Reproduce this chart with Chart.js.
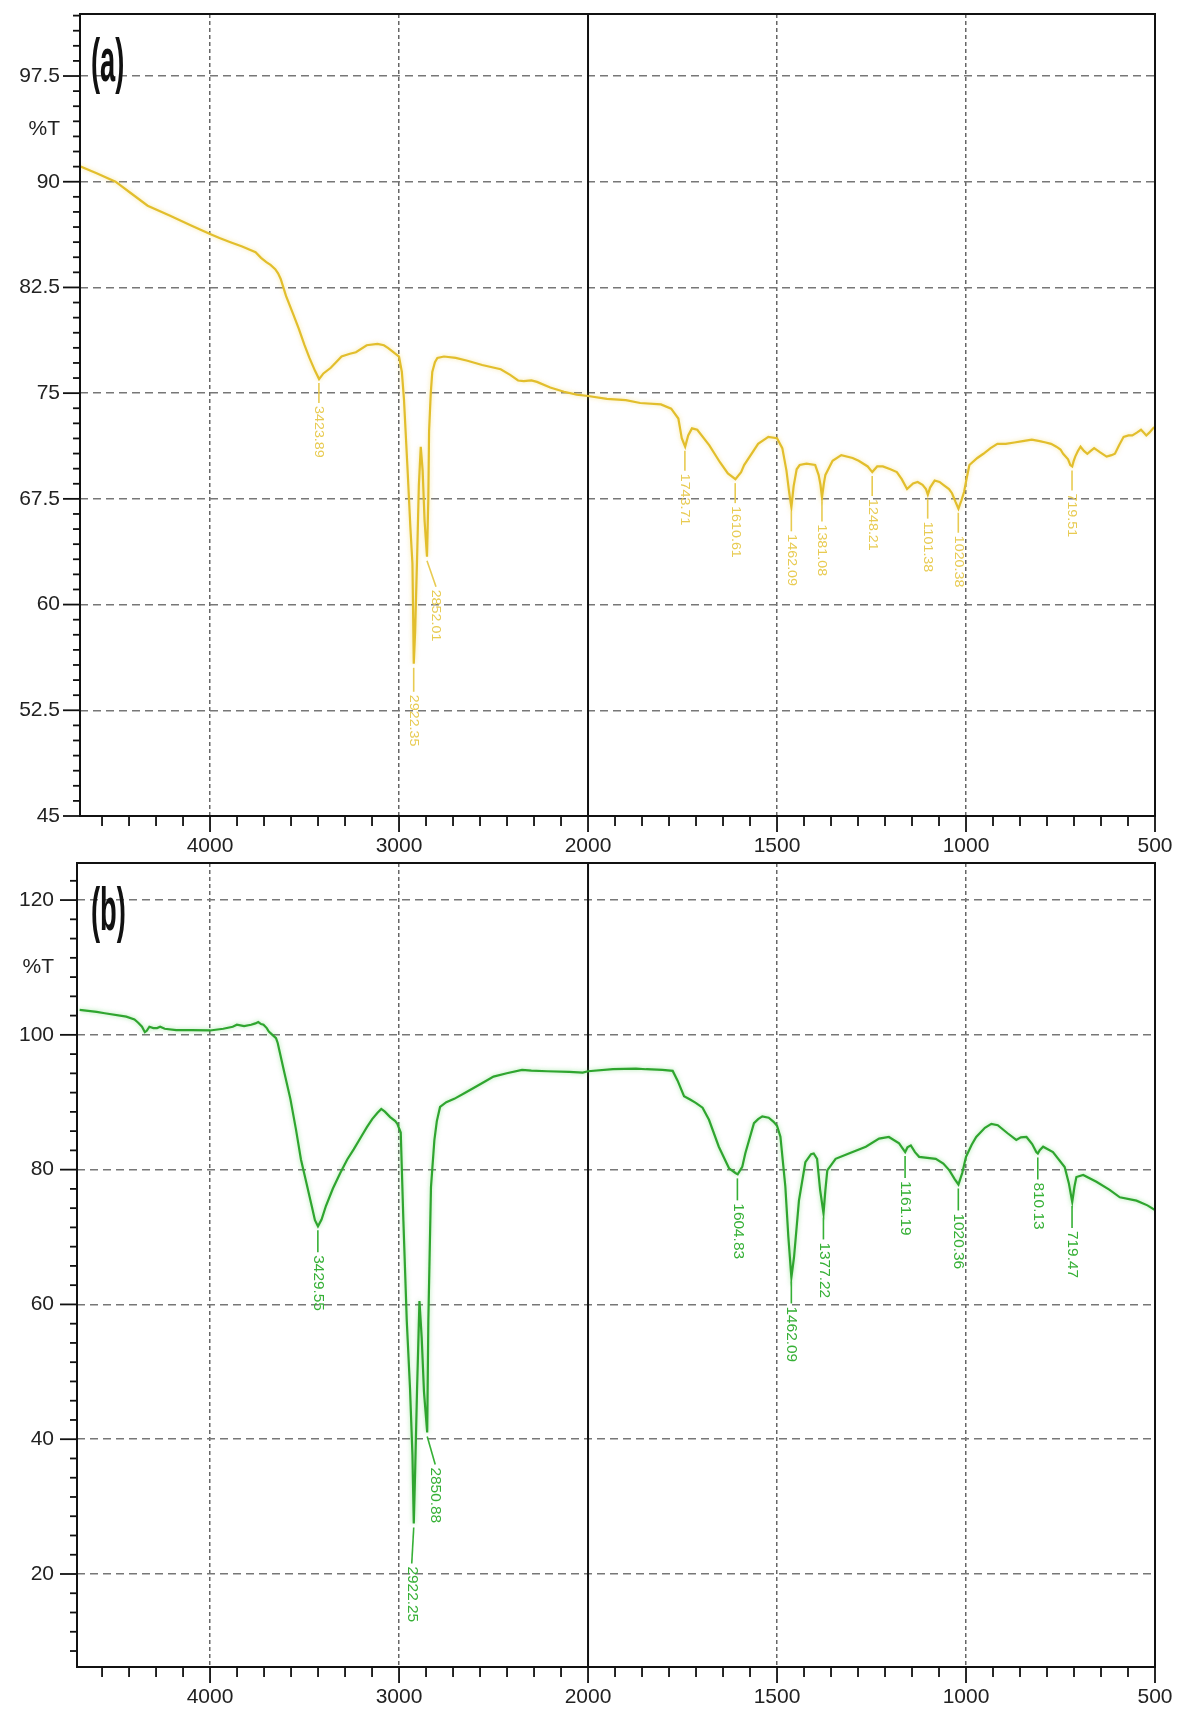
<!DOCTYPE html>
<html><head><meta charset="utf-8">
<script src="https://cdn.jsdelivr.net/npm/chart.js@4.4.1/dist/chart.umd.min.js"></script>
<style>
html,body{margin:0;padding:0;background:#fff;}
body{width:1179px;height:1712px;position:relative;overflow:hidden;}
.box{position:absolute;left:0;width:1179px;height:862px;}
#boxA{top:0;}
#boxB{top:850px;}
canvas{display:block;}
</style></head><body>
<div class="box" id="boxA"><canvas id="cA" width="1179" height="862"></canvas></div>
<div class="box" id="boxB"><canvas id="cB" width="1179" height="862"></canvas></div>
<script>
// ---------------- data ----------------
const xTickLabels = [4000, 3000, 2000, 1500, 1000, 500];
const yTicksA = [45, 52.5, 60, 67.5, 75, 82.5, 90, 97.5];
const yTicksB = [20, 40, 60, 80, 100, 120];
const yTitle = '%T';
const panelA = '(a)';
const panelB = '(b)';

const wavenumberA = [4688,4600,4500,4420,4330,4214,4100,4000,3950,3892,3830,3759,3730,3702,3680,3655,3640,3626,3598,3560,3531,3500,3474,3445,3423,3400,3361,3304,3260,3228,3171,3114,3080,3057,3020,3000,2985,2974,2956,2940,2929,2925,2922,2915,2905,2895,2885,2875,2865,2852,2845,2841,2832,2824,2810,2797,2762,2700,2638,2560,2462,2412,2370,2340,2300,2270,2200,2127,2060,2000,1950,1900,1862,1807,1780,1761,1752,1743,1735,1725,1711,1679,1651,1630,1610,1595,1587,1550,1523,1500,1486,1475,1468,1462,1456,1448,1440,1422,1399,1390,1385,1381,1376,1372,1353,1330,1300,1284,1260,1248,1235,1220,1200,1183,1170,1156,1140,1128,1115,1106,1101,1095,1083,1070,1060,1045,1037,1028,1020,1012,1005,998,991,970,954,935,917,895,872,850,826,805,789,775,761,750,743,730,724,719,715,711,704,697,688,679,670,661,645,628,615,606,595,583,570,560,548,537,530,523,515,505,500];
const transmittanceA = [91.1,90.6,90.0,89.2,88.3,87.6,86.9,86.3,86.0,85.7,85.4,85.0,84.6,84.3,84.1,83.8,83.5,83.1,81.9,80.6,79.6,78.4,77.5,76.6,76.0,76.4,76.8,77.6,77.8,77.9,78.4,78.5,78.4,78.2,77.8,77.6,76.5,74.6,69.9,65.5,62.9,59.0,55.8,58.0,63.0,68.5,71.2,69.5,66.0,63.4,67.5,72.3,75.0,76.5,77.2,77.5,77.6,77.5,77.3,77.0,76.7,76.3,75.9,75.85,75.9,75.8,75.4,75.1,74.9,74.8,74.6,74.5,74.3,74.2,73.9,73.2,71.8,71.2,72.0,72.5,72.4,71.3,70.1,69.3,68.9,69.4,69.9,71.4,71.9,71.8,71.1,69.5,68.0,66.9,68.4,69.6,69.9,70.0,69.9,69.2,68.5,67.6,68.6,69.2,70.2,70.6,70.4,70.2,69.8,69.4,69.8,69.8,69.6,69.4,68.9,68.2,68.6,68.7,68.5,68.2,67.8,68.3,68.8,68.7,68.5,68.2,67.9,67.3,66.8,67.4,68.0,69.0,69.9,70.4,70.7,71.1,71.4,71.4,71.5,71.6,71.7,71.6,71.5,71.4,71.2,71.0,70.7,70.3,69.9,69.8,70.2,70.5,70.9,71.2,70.9,70.7,70.9,71.1,70.8,70.5,70.6,70.7,71.3,71.9,72.0,72.0,72.2,72.4,72.2,72.0,72.2,72.5,72.6];
const peakWavenumberA = [3423.89, 2922.35, 2852.01, 1743.71, 1610.61, 1462.09, 1381.08, 1248.21, 1101.38, 1020.38, 719.51];
const peakLabelA = ['3423.89', '2922.35', '2852.01', '1743.71', '1610.61', '1462.09', '1381.08', '1248.21', '1101.38', '1020.38', '719.51'];

const wavenumberB = [4690,4600,4557,4443,4400,4380,4360,4345,4335,4321,4300,4280,4264,4240,4179,4100,4000,3930,3880,3858,3820,3783,3760,3745,3730,3717,3700,3689,3670,3651,3642,3610,3575,3545,3519,3490,3462,3445,3429,3410,3387,3350,3311,3274,3240,3198,3170,3142,3115,3094,3075,3047,3020,3009,2991,2977,2959,2942,2929,2922,2915,2905,2892,2880,2868,2851,2845,2831,2813,2800,2783,2750,2708,2650,2594,2550,2500,2430,2349,2300,2217,2100,2028,2000,1934,1873,1846,1803,1776,1763,1746,1730,1715,1697,1680,1654,1627,1610,1604,1592,1584,1561,1550,1539,1522,1509,1500,1491,1478,1470,1462,1455,1442,1425,1410,1403,1394,1386,1377,1372,1367,1345,1310,1265,1230,1204,1177,1166,1161,1155,1146,1135,1124,1080,1060,1044,1030,1020,1010,1000,985,973,950,933,916,890,867,855,840,825,814,810,805,796,770,739,728,719,713,708,690,655,620,593,549,520,500];
const transmittanceB = [103.7,103.4,103.2,102.7,102.3,101.8,101.2,100.4,100.6,101.2,101.0,101.0,101.2,100.9,100.7,100.7,100.65,100.9,101.2,101.5,101.3,101.5,101.7,101.9,101.6,101.5,101.0,100.5,100.0,99.5,98.8,94.8,90.5,85.9,81.5,78.0,74.6,72.5,71.6,72.6,74.6,77.2,79.5,81.5,83.0,85.0,86.3,87.5,88.4,89.0,88.6,87.8,87.2,86.8,85.5,72.4,57.5,47.6,37.6,27.5,35.0,47.0,60.5,55.0,47.0,41.0,57.5,77.4,84.4,87.2,89.3,90.0,90.5,91.4,92.3,93.0,93.8,94.3,94.8,94.7,94.6,94.5,94.4,94.6,94.9,95.0,94.9,94.8,94.65,93.2,90.9,90.4,89.9,89.2,87.4,83.4,80.2,79.5,79.3,80.4,82.4,86.9,87.5,87.9,87.7,87.1,86.5,84.9,77.5,70.0,64.0,67.0,75.4,81.1,82.3,82.4,81.6,77.0,73.5,77.0,79.9,81.6,82.4,83.4,84.6,84.85,83.9,83.0,82.6,83.3,83.6,82.6,81.9,81.6,80.9,79.9,78.6,77.8,79.5,81.9,83.7,84.85,86.2,86.8,86.6,85.4,84.4,84.8,84.85,83.8,82.6,82.4,82.9,83.4,82.6,80.4,78.0,75.2,77.5,78.9,79.2,78.2,77.0,75.9,75.4,74.7,74.0];
const peakWavenumberB = [3429.55, 2922.25, 2850.88, 1604.83, 1462.09, 1377.22, 1161.19, 1020.36, 810.13, 719.47];
const peakLabelB = ['3429.55', '2922.25', '2850.88', '1604.83', '1462.09', '1377.22', '1161.19', '1020.36', '810.13', '719.47'];

// ---------------- axis transform (scale changes at 2000 cm-1) ----------------
function toAxis(w) { return w <= 2000 ? w : 2000 + (w - 2000) / 2; }
function fromAxis(u) { return u <= 2000 ? u : 2000 + (u - 2000) * 2; }

const FONT = '"Liberation Sans", Arial, sans-serif';

function noPad(s) { s.paddingLeft = 0; s.paddingRight = 0; s.paddingTop = 0; s.paddingBottom = 0; }

const decor = {
  id: 'decor',
  beforeDatasetsDraw(chart, args, o) {
    const {ctx, chartArea: a, scales: {x}} = chart;
    const px = x.getPixelForValue(toAxis(2000));
    ctx.save();
    ctx.strokeStyle = '#111';
    ctx.lineWidth = 2;
    ctx.beginPath(); ctx.moveTo(px, a.top); ctx.lineTo(px, a.bottom); ctx.stroke();
    ctx.restore();
  },
  beforeDatasetDraw(chart, args, o) {
    chart.ctx.save();
    chart.ctx.shadowColor = o.glow;
    chart.ctx.shadowBlur = 4;
  },
  afterDatasetDraw(chart) { chart.ctx.restore(); },
  afterDatasetsDraw(chart, args, o) {
    const {ctx, scales: {x, y}} = chart;
    const pts = chart.data.datasets[0].data;
    ctx.save();
    ctx.strokeStyle = o.labelColor;
    ctx.fillStyle = o.labelColor;
    ctx.lineWidth = 1.6;
    ctx.font = o.labelFont;
    o.peaks.forEach((w, i) => {
      let best = Infinity;
      pts.forEach(p => { if (Math.abs(fromAxis(p.x) - w) <= 12 && p.y < best) best = p.y; });
      const px = x.getPixelForValue(toAxis(w));
      const py = y.getPixelForValue(best);
      const dx = (o.shift && o.shift[i]) || 0;
      const extra = (o.drop && o.drop[i]) || 0;
      const y0 = py + 4, y1 = y0 + o.lineLen + extra;
      ctx.beginPath(); ctx.moveTo(px, y0); ctx.lineTo(px + dx, y1); ctx.stroke();
      ctx.save();
      ctx.translate(px + dx, y1 + 3);
      ctx.rotate(Math.PI / 2);
      ctx.textBaseline = 'middle';
      ctx.textAlign = 'left';
      ctx.scale(o.labelStretch, 1);
      ctx.fillText(o.texts[i], 0, 0);
      ctx.restore();
    });
    ctx.restore();
  },
  afterDraw(chart, args, o) {
    const {ctx, chartArea: a, scales: {x, y}} = chart;
    ctx.save();
    ctx.strokeStyle = '#111';
    ctx.lineWidth = 2;
    ctx.strokeRect(a.left, a.top, a.right - a.left, a.bottom - a.top);
    ctx.lineWidth = 1.8;
    const stepU = 500 / 7;
    for (let k = 0; ; k++) {
      const u = 500 + k * stepU;
      if (u > x.max + 1e-6) break;
      const p = x.getPixelForValue(u);
      const len = k % 7 === 0 ? 16 : 10;
      ctx.beginPath(); ctx.moveTo(p, a.bottom); ctx.lineTo(p, a.bottom + len); ctx.stroke();
    }
    const base = o.yMajor[0], st = o.yStep / 7;
    for (let k = -40; k < 200; k++) {
      const v = base + k * st;
      if (v < y.min - 1e-6 || v > y.max + 1e-6) continue;
      const p = y.getPixelForValue(v);
      const len = ((k % 7) + 7) % 7 === 0 ? 17 : 7;
      ctx.beginPath(); ctx.moveTo(a.left - len, p); ctx.lineTo(a.left, p); ctx.stroke();
    }
    ctx.fillStyle = '#111';
    ctx.font = 'bold 62px ' + FONT;
    ctx.textBaseline = 'alphabetic';
    ctx.translate(o.tagX, o.tagY);
    ctx.scale(0.44, 1);
    ctx.fillText(o.tag, 0, 0);
    ctx.restore();
  }
};

function makeChart(canvasId, cfg) {
  const data = cfg.wn.map((w, i) => ({x: toAxis(w), y: cfg.tr[i]}));
  return new Chart(document.getElementById(canvasId), {
    type: 'line',
    data: {datasets: [{
      data: data,
      borderColor: cfg.color,
      borderWidth: 2.2,
      pointRadius: 0,
      tension: 0,
      fill: false
    }]},
    plugins: [decor],
    options: {
      responsive: false,
      animation: false,
      devicePixelRatio: 1,
      layout: {padding: {top: cfg.padTop, right: 24, left: 0, bottom: 0}},
      plugins: {
        legend: {display: false},
        tooltip: {enabled: false},
        decor: {
          peaks: cfg.peaks, texts: cfg.texts, labelColor: cfg.labelColor, glow: cfg.glow,
          labelFont: cfg.labelFont, labelStretch: cfg.labelStretch, lineLen: cfg.lineLen,
          shift: cfg.shift, drop: cfg.drop,
          yMajor: cfg.yTicks, yStep: cfg.yTicks[1] - cfg.yTicks[0],
          tag: cfg.tag, tagX: 91, tagY: cfg.tagY
        }
      },
      scales: {
        x: {
          type: 'linear',
          reverse: true,
          min: 500,
          max: cfg.xMax,
          afterFit: s => { s.height = cfg.xAxisH; noPad(s); },
          afterBuildTicks: s => { s.ticks = xTickLabels.map(w => ({value: toAxis(w)})); },
          ticks: {
            callback: v => String(Math.round(fromAxis(v))),
            font: {family: FONT, size: 21},
            color: '#222',
            padding: cfg.xPad,
            maxRotation: 0,
            autoSkip: false
          },
          grid: {
            drawTicks: false,
            lineWidth: 1.5,
            color: c => (c.tick && (Math.abs(c.tick.value - 2000) < 1 || Math.abs(c.tick.value - 500) < 1)) ? 'rgba(0,0,0,0)' : '#666'
          },
          border: {display: false, dash: [4, 3]}
        },
        y: {
          type: 'linear',
          min: cfg.yMin,
          max: cfg.yMax,
          afterFit: s => { s.width = cfg.yAxisW; noPad(s); },
          afterBuildTicks: s => { s.ticks = cfg.yTicks.concat([cfg.titlePos]).sort((p, q) => p - q).map(v => ({value: v})); },
          ticks: {
            callback: v => (Math.abs(v - cfg.titlePos) < 1e-6 ? yTitle : String(v)),
            font: {family: FONT, size: 21},
            color: '#222',
            padding: cfg.yPad,
            autoSkip: false
          },
          grid: {
            drawTicks: false,
            lineWidth: 1.5,
            color: c => (c.tick && Math.abs(c.tick.value - cfg.titlePos) < 1e-6) ? 'rgba(0,0,0,0)' : '#777'
          },
          border: {display: false, dash: [8, 5]}
        }
      }
    }
  });
}

makeChart('cA', {
  wn: wavenumberA, tr: transmittanceA, color: '#E2BE2C', glow: 'rgba(240,210,80,0.55)',
  labelColor: '#E8CB52', labelFont: '13px ' + FONT, labelStretch: 1.1, lineLen: 20,
  peaks: peakWavenumberA, texts: peakLabelA, shift: {2: 9}, drop: {1: 4, 2: 6},
  yTicks: yTicksA, titlePos: 93.75, yMin: 45, yMax: 101.9, padTop: 14,
  xMax: 3344, xAxisH: 46, yAxisW: 80, xPad: 18, yPad: 20,
  tag: panelA, tagY: 81
});

makeChart('cB', {
  wn: wavenumberB, tr: transmittanceB, color: '#2FA52F', glow: 'rgba(80,210,80,0.5)',
  labelColor: '#36B036', labelFont: '14px ' + FONT, labelStretch: 1.1, lineLen: 22,
  peaks: peakWavenumberB, texts: peakLabelB, shift: {1: -2, 2: 8}, drop: {1: 14, 2: 6},
  yTicks: yTicksB, titlePos: 110, yMin: 6.2, yMax: 125.5, padTop: 13,
  xMax: 3352, xAxisH: 45, yAxisW: 77, xPad: 18, yPad: 23,
  tag: panelB, tagY: 80
});
</script>
</body></html>
